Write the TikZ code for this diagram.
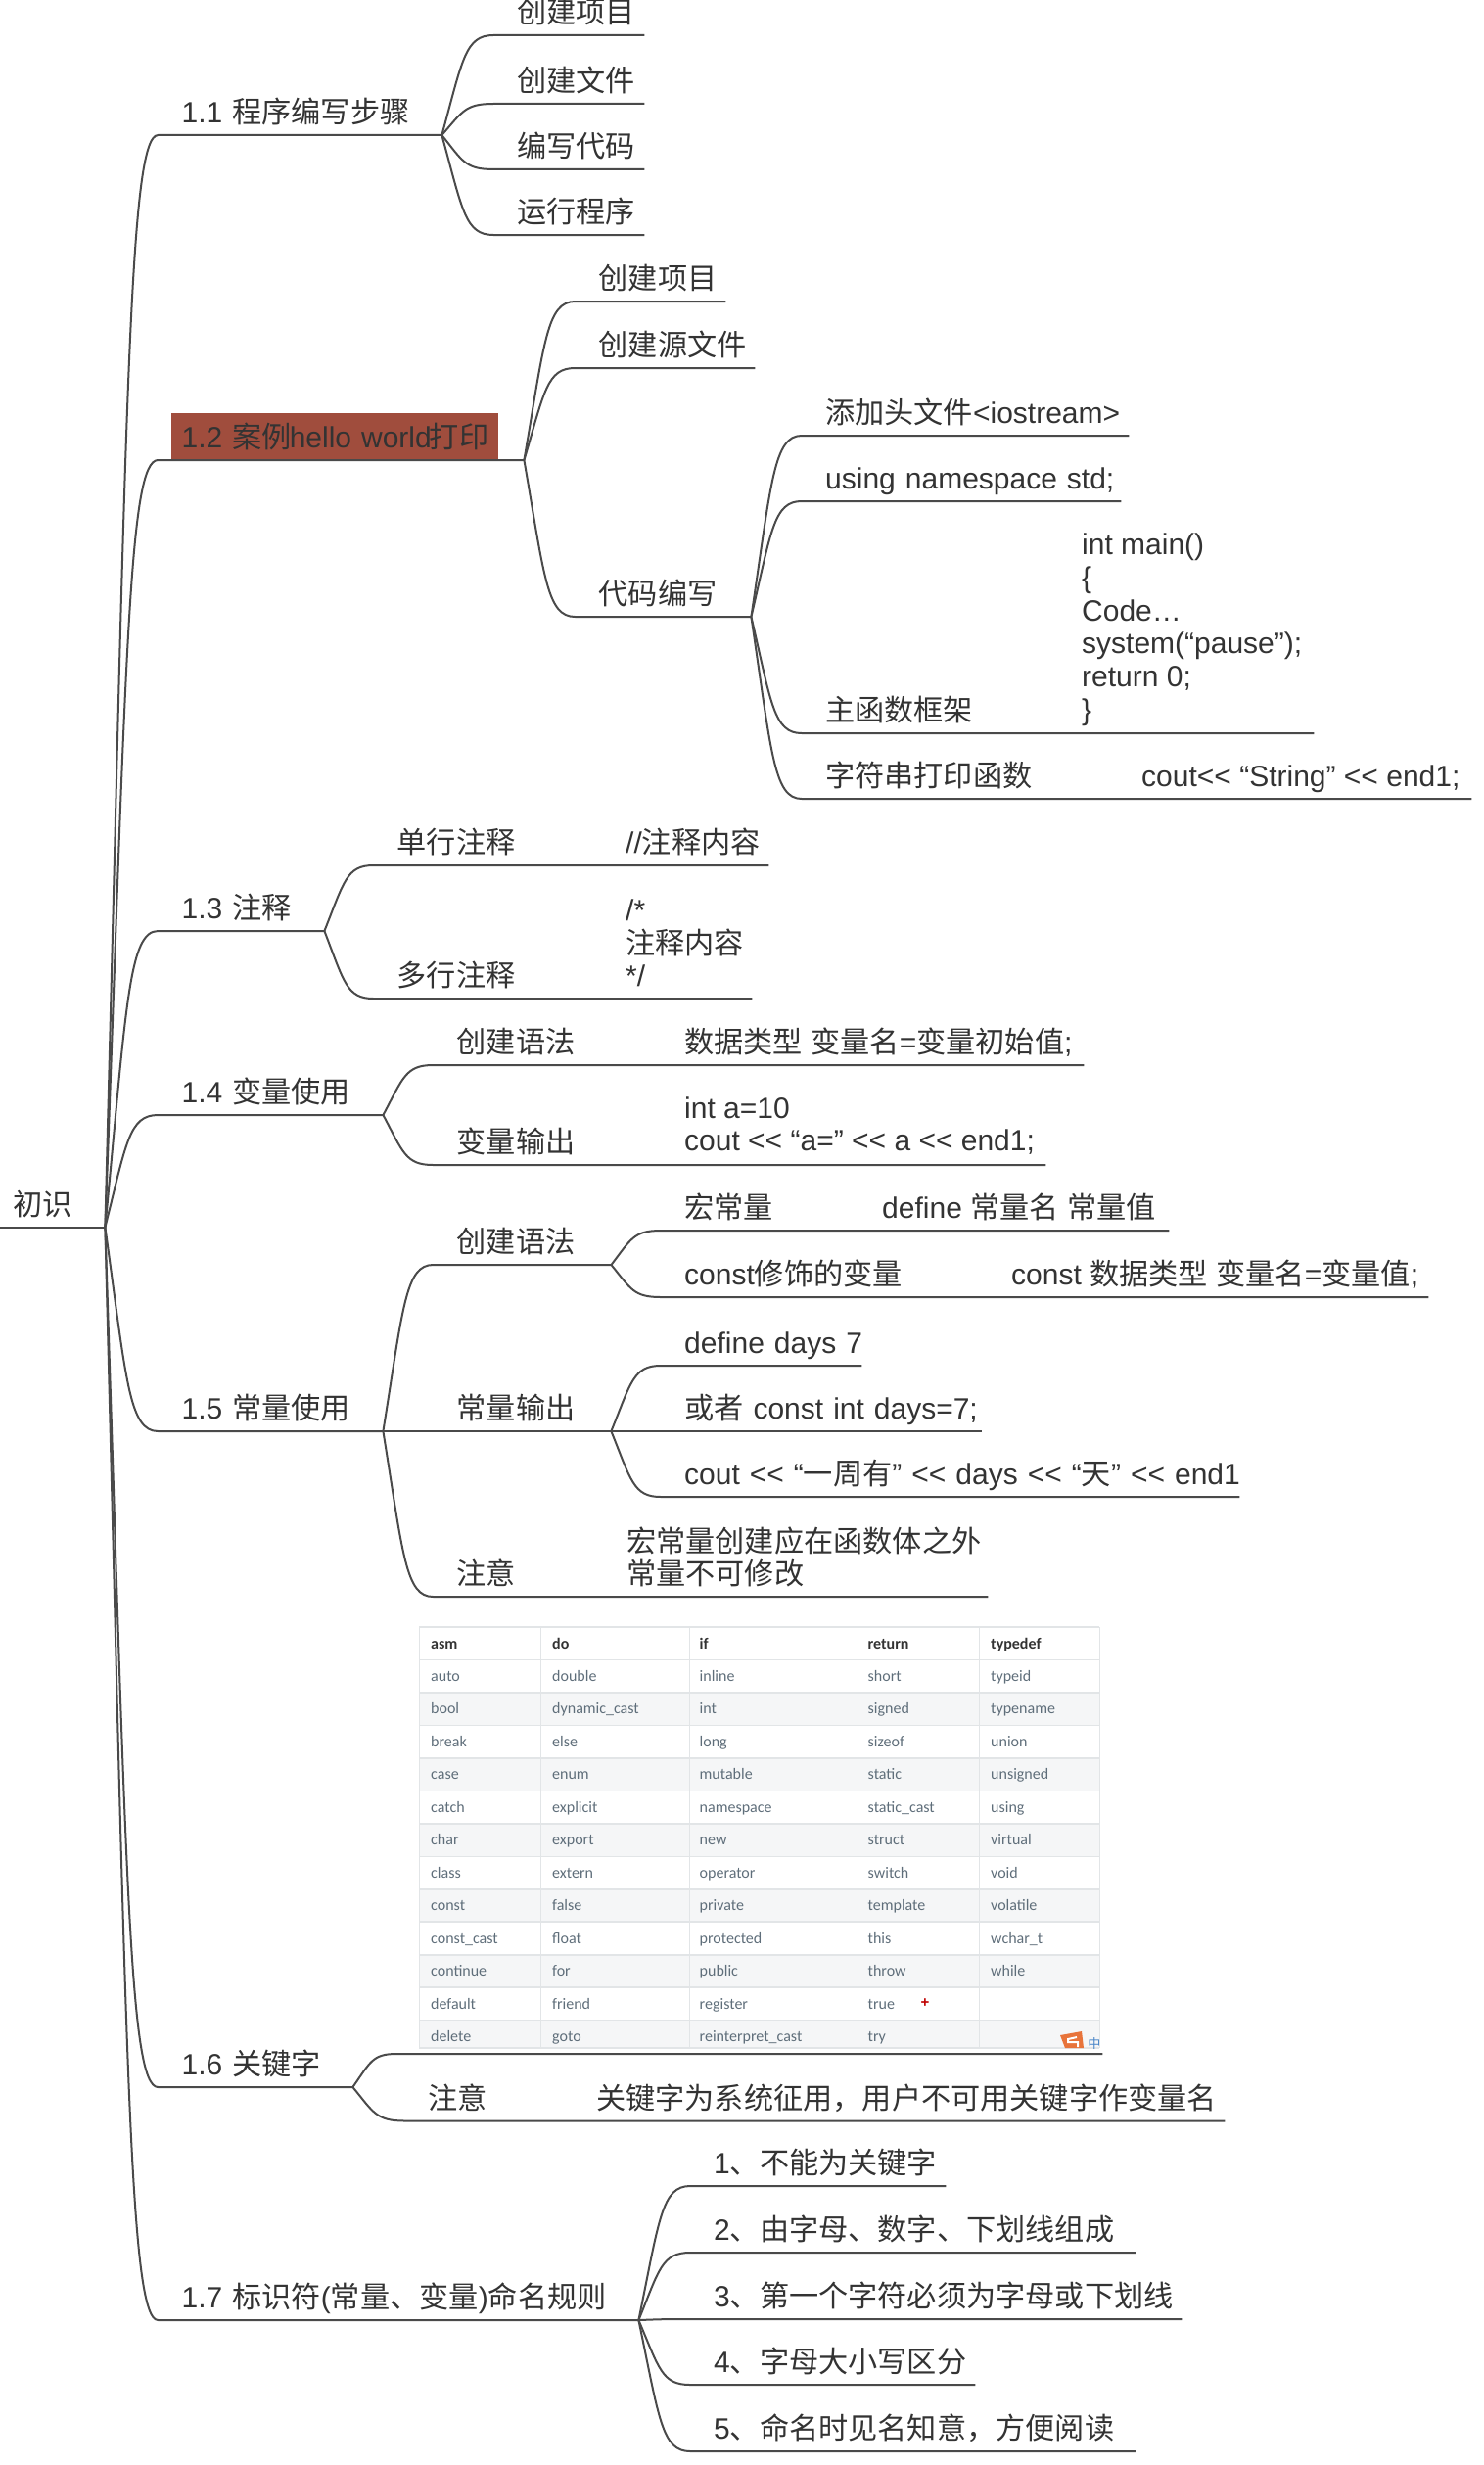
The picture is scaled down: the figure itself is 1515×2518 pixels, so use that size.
\documentclass[tikz,border=0pt]{standalone}
\usepackage{fontspec}
\setmainfont{Liberation Sans}
\newfontfamily\zhfont[Scale=1.006]{Noto Sans CJK SC}
\newfontfamily\keyfont{Carlito}
\newcommand{\zh}[1]{{\zhfont #1}}
\newcommand{\shl}{<{}<}
\definecolor{mapline}{HTML}{4A4A4A}
\definecolor{maptext}{HTML}{333333}
\definecolor{maphl}{HTML}{A04D3D}
\definecolor{keygrey}{HTML}{F5F6F7}
\definecolor{keyrule}{HTML}{E2E5E7}
\definecolor{keytext}{HTML}{5F6E7A}
\definecolor{logoorange}{HTML}{E8743B}
\definecolor{logoblue}{HTML}{4A86C8}
\usetikzlibrary{calc}
% curve from the end of a parent's underline to a child, then along its underline
\newcommand{\branch}[3][24]{%
  \draw[link] let \p1=(#2.south east),\p2=($(#3.south west)+(-#1,0)$) in
    (\p1) .. controls ({\x1+0.4*(\x2-\x1)},{\y1+0.75*(\y2-\y1)}) and ({\x1+0.45*(\x2-\x1)},{\y2}) .. (\p2)
    -- (#3.south east);}

\begin{document}
\begin{tikzpicture}[
    x=1pt, y=-1pt,
    topic/.style={anchor=south west, inner sep=0pt, align=left, text=maptext,
                  font=\fontsize{30}{33.7}\selectfont,
                  execute at end node={\rule[-12pt]{0pt}{12pt}}},
    hlbox/.style={anchor=south west, inner sep=0pt, fill=maphl,
                  minimum width=334pt, minimum height=48pt},
    link/.style={draw=mapline, line width=2pt},
    keyword/.style={anchor=base west, inner sep=0pt, text=keytext,
                    font=\keyfont\fontsize{16}{18}\selectfont},
  ]
  \useasboundingbox (0,0) rectangle (1515,2518);
  \def\colx{{440,564,714.5,886.5,1012}}

  % Keyword table
  \foreach \rowwords [count=\r from 0] in {
      {asm,do,if,return,typedef},
      {auto,double,inline,short,typeid},
      {bool,dynamic\_cast,int,signed,typename},
      {break,else,long,sizeof,union},
      {case,enum,mutable,static,unsigned},
      {catch,explicit,namespace,static\_cast,using},
      {char,export,new,struct,virtual},
      {class,extern,operator,switch,void},
      {const,false,private,template,volatile},
      {const\_cast,float,protected,this,wchar\_t},
      {continue,for,public,throw,while},
      {default,friend,register,true,{}},
      {delete,goto,reinterpret\_cast,try,{}}} {
    \pgfmathsetmacro\rowtop{1662+33.47*\r}
    \pgfmathsetmacro\rowbot{min(\rowtop+33.47,2092)}
    \pgfmathtruncatemacro\shade{(\r>1)*(1-mod(\r,2))}
    \ifnum\shade=1
      \fill[keygrey] (428,\rowtop) rectangle (1123,\rowbot);
    \fi
    \draw[keyrule, line width=1.6pt] (428,\rowtop) -- (1123,\rowtop);
    \foreach \w [count=\c] in \rowwords {
      \pgfmathsetmacro\xx{\colx[\c-1]}
      \node[keyword] (k-\r-\c) at (\xx,\rowtop+22) {\ifnum\r=0 \bfseries\color{maptext}\fi\w};
    }
  }
  \draw[keyrule, line width=1.6pt] (428,2092) -- (1123,2092);
  \foreach \xx in {428,552,704,876,1000,1123}
    \draw[keyrule, line width=0.8pt] (\xx,1662) -- (\xx,2092);
  \node[inner sep=0pt, text=red!75!black, font=\bfseries\fontsize{15}{15}\selectfont] (plus) at (945,2046) {+};
  % Logo in the table corner
  \fill[logoorange] (1083,2079) -- (1105,2075) -- (1107,2092) -- (1088,2092) -- cycle;
  \draw[white, line width=2pt] (1100,2081) -- (1091,2083) -- (1091,2086) -- (1101,2086) -- (1101,2091);
  \node[inner sep=0pt, text=logoblue, font=\zhfont\fontsize{13}{13}\selectfont] (logozh) at (1118,2087) {中};

  \node[hlbox] (hl12) at (175,470) {};

  % Root
  \coordinate (rootstart) at (0,1253.5);
  \node[topic, text width=94pt] (root) at (13,1253.5) {\zh{初识}};
  \draw[link] (rootstart) -- (root.south east);

  % First level
  \node[topic, text width=265.5pt] (t11) at (185.5,138)  {1.1 \zh{程序编写步骤}};
  \node[topic, text width=349.5pt] (t12) at (185.5,470)  {1.2 \zh{案例}\kern-2pt hello world\kern-2pt\zh{打印}};
  \node[topic, text width=145.5pt] (t13) at (185.5,951)  {1.3 \zh{注释}};
  \node[topic, text width=205.5pt] (t14) at (185.5,1139) {1.4 \zh{变量使用}};
  \node[topic, text width=205.5pt] (t15) at (185.5,1462) {1.5 \zh{常量使用}};
  \node[topic, text width=174.5pt] (t16) at (185.5,2132) {1.6 \zh{关键字}};
  \node[topic, text width=466.5pt] (t17) at (185.5,2370) {1.7 \zh{标识符}(\zh{常量、变量})\zh{命名规则}};
  \foreach \kid in {t11,t12,t13,t14,t15,t16,t17}
    \branch{root}{\kid};

  % 1.1
  \node[topic, text width=130pt] (s111) at (528,36)  {\zh{创建项目}};
  \node[topic, text width=130pt] (s112) at (528,106) {\zh{创建文件}};
  \node[topic, text width=130pt] (s113) at (528,173) {\zh{编写代码}};
  \node[topic, text width=130pt] (s114) at (528,240) {\zh{运行程序}};
  \foreach \kid in {s111,s112,s113,s114}
    \branch{t11}{\kid};

  % 1.2
  \node[topic, text width=129.5pt] (s121) at (611.5,308) {\zh{创建项目}};
  \node[topic, text width=159.5pt] (s122) at (611.5,376) {\zh{创建源文件}};
  \node[topic, text width=155.5pt] (s123) at (611.5,630) {\zh{代码编写}};
  \foreach \kid in {s121,s122,s123}
    \branch{t12}{\kid};
  \node[topic, text width=310pt] (c1) at (843,445) {\zh{添加头文件}<iostream>};
  \node[topic, text width=302pt] (c2) at (843,512) {\mbox{using namespace std;}};
  \node[topic, text width=499pt] (c3) at (843,749) {\zh{主函数框架}};
  \node[topic, text width=660pt] (c4) at (843,816) {\zh{字符串打印函数}};
  \foreach \kid in {c1,c2,c3,c4}
    \branch{s123}{\kid};
  \node[topic] (c3v) at (1105,747.5) {int main()\\\{\\Code…\\system(“pause”);\\return 0;\\\}};
  \node[topic] (c4v) at (1166,816) {cout\shl{} “String” \shl{} end1;};

  % 1.3
  \node[topic, text width=379.5pt] (s131) at (405.5,884)  {\zh{单行注释}};
  \node[topic, text width=362.5pt] (s132) at (405.5,1020) {\zh{多行注释}};
  \foreach \kid in {s131,s132}
    \branch{t13}{\kid};
  \node[topic] (s131v) at (639,884)  {//\zh{注释内容}};
  \node[topic] (s132v) at (639,1020) {/*\\\zh{注释内容}\\*/};

  % 1.4
  \node[topic, text width=640.5pt] (s141) at (466.5,1088) {\zh{创建语法}};
  \node[topic, text width=601.5pt] (s142) at (466.5,1190) {\zh{变量输出}};
  \foreach \kid in {s141,s142}
    \branch{t14}{\kid};
  \node[topic] (s141v) at (699,1088) {\zh{数据类型} \zh{变量名}=\zh{变量初始值};};
  \node[topic] (s142v) at (699,1188) {int a=10\\cout \shl{} “a=” \shl{} a \shl{} end1;};

  % 1.5
  \node[topic, text width=157.5pt] (s151) at (466.5,1292) {\zh{创建语法}};
  \node[topic, text width=157.5pt] (s152) at (466.5,1462) {\zh{常量输出}};
  \node[topic, text width=542.5pt] (s153) at (466.5,1631) {\zh{注意}};
  \foreach \kid in {s151,s152,s153}
    \branch{t15}{\kid};
  \node[topic] (s153v) at (640,1631) {\zh{宏常量创建应在函数体之外}\\\zh{常量不可修改}};
  \node[topic, text width=495pt] (m1) at (699,1257) {\zh{宏常量}};
  \node[topic, text width=760pt] (m2) at (699,1325) {const\zh{修饰的变量}};
  \foreach \kid in {m1,m2}
    \branch{s151}{\kid};
  \node[topic] (m1v) at (901,1257)  {define \zh{常量名} \zh{常量值}};
  \node[topic] (m2v) at (1033,1325) {const \zh{数据类型} \zh{变量名}=\zh{变量值};};
  \node[topic, text width=181pt] (o1) at (699,1395) {\mbox{define days 7}};
  \node[topic, text width=304pt] (o2) at (699,1462) {\mbox{\zh{或者} const int days=7;}};
  \node[topic, text width=567pt] (o3) at (699,1529) {\mbox{cout \shl{} “\zh{一周有}” \shl{} days \shl{} “\zh{天}” \shl{} end1}};
  \foreach \kid in {o1,o2,o3}
    \branch{s152}{\kid};

  % 1.6
  \node[topic, text width=697pt] (s161) at (429,2098) {};
  \node[topic, text width=813.5pt] (s162) at (437.5,2166.5) {\zh{注意}};
  \foreach \kid in {s161,s162}
    \branch{t16}{\kid};
  \node[topic] (s162v) at (609,2166.5) {\zh{关键字为系统征用，用户不可用关键字作变量名}};

  % 1.7
  \node[topic, text width=237pt] (s171) at (729,2233) {1\zh{、不能为关键字}};
  \node[topic, text width=431pt] (s172) at (729,2301) {2\zh{、由字母、数字、下划线组成}};
  \node[topic, text width=478pt] (s173) at (729,2369) {3\zh{、第一个字符必须为字母或下划线}};
  \node[topic, text width=267pt] (s174) at (729,2436) {4\zh{、字母大小写区分}};
  \node[topic, text width=431pt] (s175) at (729,2504) {5\zh{、命名时见名知意，方便阅读}};
  \foreach \kid in {s171,s172,s173,s174,s175}
    \branch{t17}{\kid};
\end{tikzpicture}
\end{document}
